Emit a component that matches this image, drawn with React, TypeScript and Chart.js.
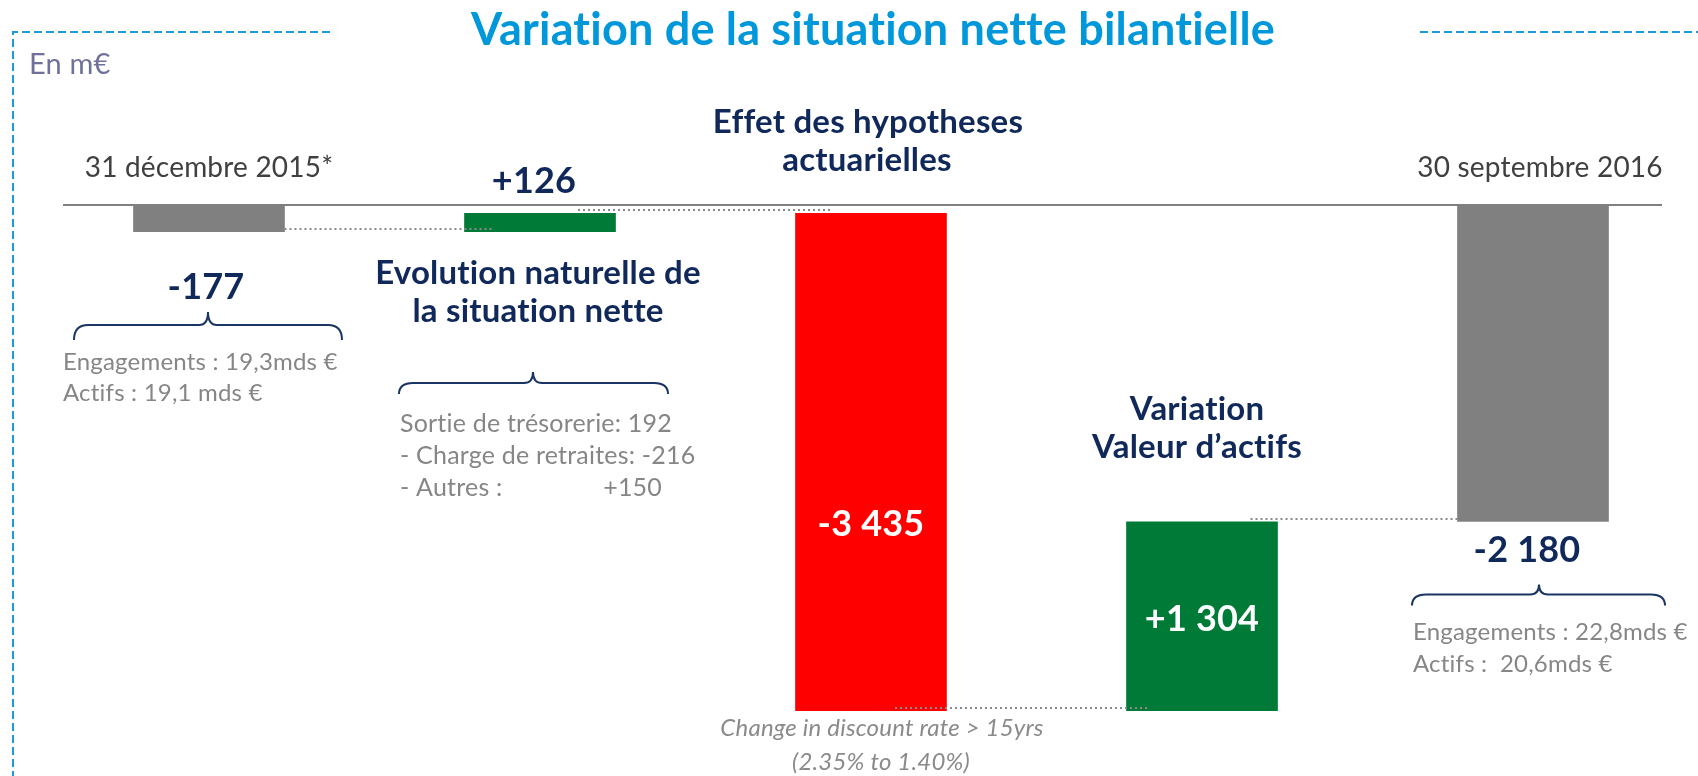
import React, { useEffect, useRef } from "react";
import { Chart, registerables } from "chart.js";

Chart.register(...registerables);

// ---- Data (m€) ----
const categories = [
  "31 décembre 2015*",
  "Evolution naturelle de la situation nette",
  "Effet des hypotheses actuarielles",
  "Variation Valeur d’actifs",
  "30 septembre 2016",
];
const openingBalance = -177;
const movements = [126, -3435, 1304];
const closingBalance = -2180;
const valueLabels = ["-177", "+126", "-3 435", "+1 304", "-2 180"];
const barColors = ["#808080", "#007A37", "#FF0000", "#007A37", "#808080"];

const titleText = "Variation de la situation nette bilantielle";
const unitText = "En m€";
const openingDetails = ["Engagements : 19,3mds €", "Actifs : 19,1 mds €"];
const naturalDetails = ["Sortie de trésorerie: 192", "- Charge de retraites: -216", "- Autres :"];
const naturalOtherValue = "+150";
const discountNotes = ["Change in discount rate > 15yrs", "(2.35% to 1.40%)"];
const closingDetails = ["Engagements : 22,8mds €", "Actifs :  20,6mds €"];
const naturalTitle = ["Evolution naturelle de", "la situation nette"];
const actuarialTitle = ["Effet des hypotheses", "actuarielles"];
const assetTitle = ["Variation", "Valeur d’actifs"];

const yMin = -3800;
const yMax = 0;

// floating ranges built from the arrays above
const ranges: [number, number][] = [];
ranges.push([0, openingBalance]);
{
  let level = openingBalance;
  for (const m of movements) {
    ranges.push([level, level + m]);
    level += m;
  }
}
ranges.push([0, closingBalance]);

const NAVY = "#10295A";
const GREY_TXT = "#868686";
const FONT = "Lato, 'Open Sans', sans-serif";

function drawText(
  ctx: CanvasRenderingContext2D,
  s: string,
  x: number,
  y: number,
  font: string,
  color: string,
  align: CanvasTextAlign = "center"
) {
  const c: any = ctx;
  ctx.font = font;
  try {
    c.textRendering = "optimizeSpeed";
    c.letterSpacing = "0.2px";
  } catch (e) {
    /* ignore */
  }
  ctx.fillStyle = color;
  ctx.textAlign = align;
  ctx.textBaseline = "middle";
  ctx.fillText(s, x, y);
}

function drawBrace(
  ctx: CanvasRenderingContext2D,
  x1: number,
  x2: number,
  tip: number,
  yTip: number,
  yH: number,
  yEnd: number
) {
  ctx.save();
  ctx.strokeStyle = "#1A3464";
  ctx.lineWidth = 2;
  ctx.setLineDash([]);
  ctx.beginPath();
  ctx.moveTo(x1, yEnd);
  ctx.quadraticCurveTo(x1, yH, x1 + 14, yH);
  ctx.lineTo(tip - 9, yH);
  ctx.quadraticCurveTo(tip, yH, tip, yTip);
  ctx.quadraticCurveTo(tip, yH, tip + 9, yH);
  ctx.lineTo(x2 - 14, yH);
  ctx.quadraticCurveTo(x2, yH, x2, yEnd);
  ctx.stroke();
  ctx.restore();
}

const overlayPlugin = {
  id: "overlay",
  afterDatasetsDraw(chart: any) {
    const ctx: CanvasRenderingContext2D = chart.ctx;
    const ys = chart.scales.y;
    const bars = chart.getDatasetMeta(0).data as any[];
    const zero = ys.getPixelForValue(0);
    const W = bars[0].width;
    const top = (i: number) => Math.min(bars[i].y, bars[i].base);
    const bottom = (i: number) => Math.max(bars[i].y, bars[i].base);
    const c = bars.map((b) => b.x);

    ctx.save();

    // dotted connectors
    ctx.strokeStyle = "#8A8A8A";
    ctx.lineWidth = 2;
    ctx.setLineDash([2, 3]);
    const spans = [
      [c[0] + W / 2, c[1] - W / 2 + 29],
      [c[1] + 38, c[2] - W / 2 + 37],
      [c[2] + 24, c[3] - W / 2 + 23],
      [c[3] + W / 2 - 27, c[4] - W / 2],
    ];
    spans.forEach(([a, b], i) => {
      const y = Math.round(ys.getPixelForValue(ranges[i][1])) - 3;
      ctx.beginPath();
      ctx.moveTo(a, y);
      ctx.lineTo(b, y);
      ctx.stroke();
    });

    // zero axis line
    ctx.setLineDash([]);
    ctx.strokeStyle = "#808080";
    ctx.lineWidth = 2;
    ctx.beginPath();
    ctx.moveTo(c[0] - 146, zero - 1);
    ctx.lineTo(c[4] + 129, zero - 1);
    ctx.stroke();

    // dashed frame
    ctx.strokeStyle = "#1C9BD8";
    ctx.lineWidth = 2;
    ctx.setLineDash([8, 4]);
    ctx.beginPath();
    ctx.moveTo(330, 32);
    ctx.lineTo(13, 32);
    ctx.lineTo(13, 776);
    ctx.moveTo(1420, 32);
    ctx.lineTo(1698, 32);
    ctx.stroke();
    ctx.setLineDash([]);

    // title and unit
    drawText(ctx, titleText, 873, 30, `bold 45px ${FONT}`, "#0098DA");
    drawText(ctx, unitText, 29, 65, `29px ${FONT}`, "#6E7199", "left");

    const bold36 = `bold 36px ${FONT}`;
    const boldT = `bold 33px ${FONT}`;
    const reg24 = `24px ${FONT}`;
    const reg25 = `25px ${FONT}`;

    // bar 0 : opening
    drawText(ctx, categories[0], c[0], zero - 38, `28px ${FONT}`, "#404040");
    drawText(ctx, valueLabels[0], c[0] - 3, zero + 81, bold36, NAVY);
    drawBrace(ctx, c[0] - 135, c[0] + 133, c[0] - 1, zero + 106, zero + 119, zero + 134);
    drawText(ctx, openingDetails[0], c[0] - 146, zero + 156, reg24, GREY_TXT, "left");
    drawText(ctx, openingDetails[1], c[0] - 146, zero + 187, reg24, GREY_TXT, "left");

    // bar 1 : natural evolution
    drawText(ctx, valueLabels[1], c[1] - 6, zero - 25, bold36, NAVY);
    drawText(ctx, naturalTitle[0], c[1] - 2, zero + 67, boldT, NAVY);
    drawText(ctx, naturalTitle[1], c[1] - 2, zero + 105, boldT, NAVY);
    drawBrace(ctx, c[1] - 141, c[1] + 128, c[1] - 7, zero + 166, zero + 177, zero + 188);
    naturalDetails.forEach((s, i) =>
      drawText(ctx, s, c[1] - 140, zero + 218 + i * 32, reg25, GREY_TXT, "left")
    );
    drawText(ctx, naturalOtherValue, c[1] + 122, zero + 218 + 2 * 32, reg25, GREY_TXT, "right");

    // bar 2 : actuarial assumptions
    drawText(ctx, actuarialTitle[0], c[2] - 3, zero - 84, boldT, NAVY);
    drawText(ctx, actuarialTitle[1], c[2] - 4, zero - 46, boldT, NAVY);
    drawText(ctx, valueLabels[2], c[2], top(2) + 0.626 * (bottom(2) - top(2)), bold36, "#FFFFFF");
    drawText(ctx, discountNotes[0], c[2] + 11, bottom(2) + 18, `italic 24px ${FONT}`, "#8A8A8A");
    drawText(ctx, discountNotes[1], c[2] + 10, bottom(2) + 52, `italic 24px ${FONT}`, "#8A8A8A");

    // bar 3 : asset value
    drawText(ctx, assetTitle[0], c[3] - 5, top(3) - 112, boldT, NAVY);
    drawText(ctx, assetTitle[1], c[3] - 5, top(3) - 74, boldT, NAVY);
    drawText(ctx, valueLabels[3], c[3], (top(3) + bottom(3)) / 2 + 3, bold36, "#FFFFFF");

    // bar 4 : closing
    drawText(ctx, categories[4], c[4] + 7, zero - 38, `28px ${FONT}`, "#404040");
    drawText(ctx, valueLabels[4], c[4] - 6, bottom(4) + 29, bold36, NAVY);
    drawBrace(ctx, c[4] - 121, c[4] + 132, c[4] + 6, bottom(4) + 63, bottom(4) + 73, bottom(4) + 84);
    drawText(ctx, closingDetails[0], c[4] - 120, bottom(4) + 111, reg24, GREY_TXT, "left");
    drawText(ctx, closingDetails[1], c[4] - 120, bottom(4) + 143, reg24, GREY_TXT, "left");

    ctx.restore();
  },
};

export default function App() {
  const ref = useRef<HTMLCanvasElement | null>(null);

  useEffect(() => {
    if (!ref.current) return;
    const chart = new Chart(ref.current, {
      type: "bar",
      data: {
        labels: categories,
        datasets: [
          {
            data: ranges as any,
            backgroundColor: barColors,
            borderWidth: 0,
            borderSkipped: false,
            barThickness: 151,
            clip: false as any,
          },
        ],
      },
      options: {
        responsive: false,
        animation: false,
        devicePixelRatio: 1,
        layout: { padding: { left: 209, right: 165, top: 206, bottom: 20 } },
        plugins: {
          legend: { display: false },
          title: { display: false },
          tooltip: { enabled: false },
        },
        scales: {
          x: { type: "category", display: false, offset: false, grid: { display: false } },
          y: { display: false, min: yMin, max: yMax, grid: { display: false } },
        },
      },
      plugins: [overlayPlugin],
    });
    return () => chart.destroy();
  }, []);

  return (
    <div style={{ position: "fixed", left: 0, top: 0, width: 1698, height: 776, background: "#fff" }}>
      <canvas ref={ref} width={1698} height={776} style={{ display: "block" }} />
    </div>
  );
}
